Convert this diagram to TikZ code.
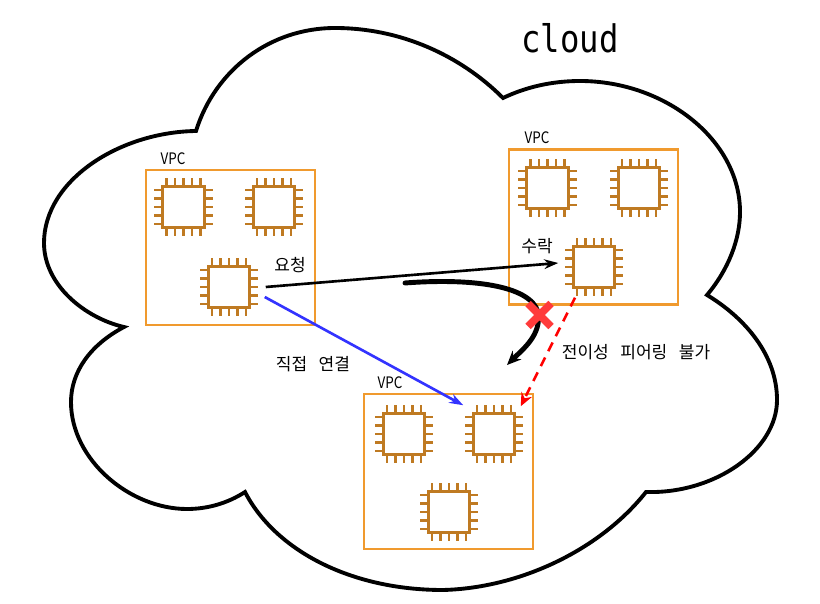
\documentclass[tikz,border=0pt]{standalone}
\usepackage{fontspec}
\usetikzlibrary{arrows.meta,shapes.misc}
\newfontfamily\korfont[WordSpace=3]{Noto Sans CJK KR}
\newfontfamily\vpcfont[FakeStretch=0.85]{Noto Sans CJK KR}
\newfontfamily\cloudfont[FakeStretch=0.85]{DejaVu Sans Mono}
\definecolor{boxorange}{HTML}{F09A2E}
\definecolor{chipbrown}{HTML}{BF7A22}
\definecolor{linkblue}{HTML}{3333FF}
\definecolor{crossred}{HTML}{FF3B3B}
\def\pinlen{8.5}
\tikzstyle{vpc}=[draw=boxorange,rectangle,line width=1.6pt,minimum width=3.38cm,
                  minimum height=3.1cm,inner sep=0pt,outer sep=0pt]
\tikzstyle{chip}=[draw=chipbrown,rectangle,line width=1.7pt,minimum size=0.83cm,
                  inner sep=0pt,outer sep=0pt]
\tikzstyle{pin}=[draw=chipbrown,line width=1.6pt]
\tikzstyle{vpclabel}=[font=\vpcfont\fontsize{9}{9}\selectfont,inner sep=0pt]
\tikzstyle{korlabel}=[font=\korfont\fontsize{9.7}{10}\selectfont,inner sep=0pt]
\tikzstyle{cloudline}=[draw=black,line width=2.2pt,miter limit=10]
\tikzstyle{reqedge}=[draw=black,line width=1.5pt,-{Stealth[length=8pt,width=5.5pt]}]
\tikzstyle{linkedge}=[draw=linkblue,line width=1.5pt,-{Stealth[length=8pt,width=5.5pt]}]
\tikzstyle{nopeer}=[draw=red,line width=1.5pt,dash pattern=on 5.5pt off 4pt,
                  -{Stealth[length=7.5pt,width=6.5pt]}]
\tikzstyle{bendedge}=[draw=black,line width=2.8pt,line cap=round,-{Stealth[length=8pt,width=7pt]}]
\tikzstyle{crossmark}=[draw=crossred,cross out,line width=4.4pt,minimum size=0.46cm,
                  inner sep=0pt,outer sep=0pt]

\begin{document}
\begin{tikzpicture}[x=0.02cm,y=-0.02cm]
  \useasboundingbox (0,0) rectangle (820,604);

  % Place cloud outline
  \draw[cloudline] (196,131) .. controls (120,132) and (44,180) .. (44,243)
    .. controls (44,285) and (85,318) .. (124,327)
    .. controls (90,345) and (71,372) .. (71,402)
    .. controls (71,460) and (130,509) .. (187,509)
    .. controls (208,509) and (228,503) .. (245,492)
    .. controls (275,550) and (350,590) .. (443,590)
    .. controls (520,588) and (600,550) .. (646,492)
    .. controls (715,494) and (777,450) .. (777,400)
    .. controls (777,355) and (745,318) .. (707,295)
    .. controls (728,270) and (740,240) .. (740,212)
    .. controls (740,140) and (665,81) .. (580,81)
    .. controls (552,81) and (526,87) .. (503,98)
    .. controls (460,55) and (400,28) .. (335,28)
    .. controls (270,28) and (215,70) .. (196,131) -- cycle;

  \node[font=\cloudfont\fontsize{21.6}{22}\selectfont,inner sep=0pt] (title) at (570,38) {cloud};

  % Place VPC boxes
  \foreach \place/\name in {{(230.5,247.5)/vpca}, {(593.5,227)/vpcb}, {(448.5,471.5)/vpcc}}
    \node[vpc] (\name) at \place {};
  \node[vpclabel] (vpcalabel) at (173,159) {VPC};
  \node[vpclabel] (vpcblabel) at (537,138) {VPC};
  \node[vpclabel] (vpcclabel) at (390,383) {VPC};

  % Place chips with their pins
  \foreach \place/\name in {{(183.5,207)/a1}, {(274,207)/a2}, {(229,287)/a3},
           {(547.5,188)/b1}, {(639,188)/b2}, {(594,267)/b3},
           {(404,434)/c1}, {(494,434)/c2}, {(449,512)/c3}}{
    \node[chip] (\name) at \place {};
    \foreach \i in {-17,-8.5,0,8.5,17}{
      \draw[pin] ([shift={(\i,0)}]\name.north) -- +(0,-\pinlen);
      \draw[pin] ([shift={(\i,0)}]\name.south) -- +(0,\pinlen);
      \draw[pin] ([shift={(0,\i)}]\name.west) -- +(-\pinlen,0);
      \draw[pin] ([shift={(0,\i)}]\name.east) -- +(\pinlen,0);
    }
  }

  % Connections
  \path[reqedge] ([shift={(16,0)}]a3.east) -- ([shift={(-15,-4)}]b3.west);
  \path[linkedge] ([shift={(15,10)}]a3.east) -- ([shift={(-10,-8)}]c2.north west);
  \path[nopeer] ([shift={(-19,10)}]b3.south) -- ([shift={(6,-7)}]c2.north east);

  \coordinate (bendstart) at (405,283);
  \coordinate (bendend) at (507,365);
  \path[bendedge] (bendstart) .. controls (470,278) and (530,285) .. (538,312)
     .. controls (542,335) and (522,350) .. (bendend);

  \node[crossmark] (nomark) at (539.5,315) {};

  \node[korlabel] (reqlabel) at (290,265) {요청};
  \node[korlabel] (acclabel) at (537,246) {수락};
  \node[korlabel] (linklabel) at (313,364) {직접 연결};
  \node[korlabel] (translabel) at (636,352) {전이성 피어링 불가};
\end{tikzpicture}
\end{document}
